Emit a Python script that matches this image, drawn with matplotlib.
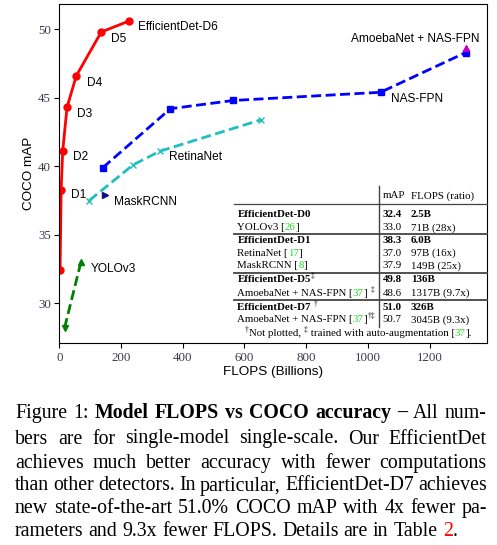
import matplotlib
matplotlib.use("Agg")
import matplotlib.pyplot as plt
from matplotlib.lines import Line2D

# EfficientDet D0..D6
effdet_flops = [2.5, 6.0, 11, 25, 55, 136, 226]
effdet_map = [32.4, 38.3, 41.1, 44.3, 46.6, 49.8, 50.6]
effdet_names = ["D1", "D2", "D3", "D4", "D5", "EfficientDet-D6"]

nasfpn_flops = [141, 360, 563, 1041, 1317]
nasfpn_map = [39.9, 44.2, 44.8, 45.4, 48.3]

retina_flops = [97, 239, 326, 655]
retina_map = [37.5, 40.1, 41.1, 43.4]

mask_flops = [149]
mask_map = [37.9]

yolo_flops = [70, 17]
yolo_map = [33.0, 28.2]

amoeba_flops = [1317]
amoeba_map = [48.6]

SERIF = "Liberation Serif"
SANS = "Liberation Sans"
W, H = 497, 545

fig = plt.figure(figsize=(W / 100, H / 100), dpi=100)
ax = fig.add_axes([59.3 / W, 1 - 343.3 / H, (486.7 - 59.3) / W, (343.3 - 4.3) / H])

DASH = (3.6, 1.6)
ax.plot(effdet_flops, effdet_map, "-o", color="red", lw=2, ms=5)
ax.plot(nasfpn_flops, nasfpn_map, "--s", color="blue", lw=2, ms=5, dashes=DASH)
ax.plot(retina_flops, retina_map, "--x", color="#1fbfbf", lw=2, ms=5, mew=1, dashes=DASH)
ax.plot(mask_flops, mask_map, ">", color="#101080", ms=5)
ax.plot(yolo_flops, yolo_map, "--", color="green", lw=2, dashes=DASH)
ax.plot(yolo_flops[:1], yolo_map[:1], "^", color="green", ms=5)
ax.plot(yolo_flops[1:], yolo_map[1:], "v", color="green", ms=5)
ax.plot(amoeba_flops, amoeba_map, "^", color="m", ms=5)

lab = dict(fontsize=8.6, family=SANS, va="center", ha="left")
# label positions (data coords)
label_x = [37, 43, 58, 89, 168, 256]
label_y = [37.9, 40.66, 43.84, 46.1, 49.29, 50.15]
for name, lx, ly in zip(effdet_names, label_x, label_y):
    ax.text(lx, ly, name, **lab)
ax.text(357, 40.66, "RetinaNet", **lab)
ax.text(178, 37.42, "MaskRCNN", **lab)
ax.text(102, 32.5, "YOLOv3", **lab)
ax.text(1074, 44.91, "NAS-FPN", **lab)
ax.text(944, 49.29, "AmoebaNet + NAS-FPN", **lab)

ax.set_xlim(0, 1385)
ax.set_ylim(27.08, 51.82)
ax.set_xticks(range(0, 1201, 200))
ax.set_yticks(range(30, 51, 5))
ax.tick_params(direction="out", length=3.5, labelsize=9.3, labelcolor="#3a3a4a", pad=2.5)
for t in ax.get_xticklabels() + ax.get_yticklabels():
    t.set_family(SERIF)
ax.set_xlabel("FLOPS (Billions)", fontsize=9.7, family=SANS, labelpad=2)
ax.set_ylabel("COCO mAP", fontsize=9.7, family=SANS, labelpad=2)

renderer = fig.canvas.get_renderer()


def px(x, y):
    return x / W, 1 - y / H


def width_of(s, **kw):
    t = fig.text(0, 0, s, **kw)
    w = t.get_window_extent(renderer).width
    t.remove()
    return w


def run(x, y, pieces, size=7.8):
    # pieces: (text, weight, color, superscript)
    for s, weight, color, sup in pieces:
        fs = size * 0.7 if sup else size
        yy = y - size * 0.45 if sup else y
        kw = dict(fontsize=fs, family=SERIF, weight=weight, color=color, va="center")
        fig.text(*px(x, yy), s, **kw)
        x += width_of(s, **kw)
    return x


def hline(y, x0=234, x1=487, lw=1.0, color="#444444"):
    fig.add_artist(Line2D([x0 / W, x1 / W], [1 - y / H, 1 - y / H], lw=lw, color=color))


# ---- table inside the axes ----
G = "#22dd22"
n, b = "normal", "bold"
col_name, col_map, col_flops = 237.3, 382.7, 410.7
run(col_map, 196, [("mAP", n, "k", False)])
run(col_flops, 196, [("FLOPS (ratio)", n, "k", False)])
rows = [
    (214.3, [("EfficientDet-D0", b, "k", False)], "32.4", "2.5B", b),
    (227.7, [("YOLOv3 [", n, "k", False), ("26", n, G, False), ("]", n, "k", False)], "33.0", "71B (28x)", n),
    (240.7, [("EfficientDet-D1", b, "k", False)], "38.3", "6.0B", b),
    (253.3, [("RetinaNet [", n, "k", False), ("17", n, G, False), ("]", n, "k", False)], "37.0", "97B (16x)", n),
    (266.0, [("MaskRCNN [", n, "k", False), ("8", n, G, False), ("]", n, "k", False)], "37.9", "149B (25x)", n),
    (280.0, [("EfficientDet-D5", b, "k", False), ("\u2021", n, "k", True)], "49.8", "136B", b),
    (293.3, [("AmoebaNet + NAS-FPN [", n, "k", False), ("37", n, G, False), ("] ", n, "k", False),
             ("\u2021", n, "k", True)], "48.6", "1317B (9.7x)", n),
    (307.7, [("EfficientDet-D7 ", b, "k", False), ("\u2020", n, "k", True)], "51.0", "326B", b),
    (320.0, [("AmoebaNet + NAS-FPN [", n, "k", False), ("37", n, G, False), ("]", n, "k", False),
             ("\u2020\u2021", n, "k", True)], "50.7", "3045B (9.3x)", n),
]
for y, name, m, f, wt in rows:
    run(col_name, y, name)
    run(col_map, y, [(m, wt, "k", False)])
    run(col_flops, y, [(f, wt, "k", False)])

foot = [("\u2020", n, "k", True), ("Not plotted, ", n, "k", False), ("\u2021", n, "k", True),
        (" trained with auto-augmentation [", n, "k", False), ("37", n, G, False), ("].", n, "k", False)]
fw = sum(width_of(s, fontsize=7.8 * (0.7 if sp else 1), family=SERIF) for s, _, _, sp in foot)
run(358.5 - fw / 2, 334, foot)

hline(204, lw=0.9)
hline(234.3, lw=1.3)
hline(273.3, lw=1.3)
hline(300.0, lw=1.3)
fig.add_artist(Line2D([379.3 / W] * 2, [1 - 186 / H, 1 - 327 / H], lw=1.0, color="#444444"))

# ---- caption, justified ----
cap_lines = [
    [[("Figure", n, "k")], [("1:", n, "k")], [("Model", b, "k")], [("FLOPS", b, "k")],
     [("vs", b, "k")], [("COCO", b, "k")], [("accuracy", b, "k")], [("\u2013", b, "k")],
     [("All", n, "k")], [("num-", n, "k")]],
    "bers are for single-model single-scale. Our EfficientDet",
    "achieves much better accuracy with fewer computations",
    "than other detectors. In particular, EfficientDet-D7 achieves",
    "new state-of-the-art 51.0% COCO mAP with 4x fewer pa-",
    [[("rameters", n, "k")], [("and", n, "k")], [("9.3x", n, "k")], [("fewer", n, "k")],
     [("FLOPS.", n, "k")], [("Details", n, "k")], [("are", n, "k")], [("in", n, "k")],
     [("Table", n, "k")], [("2", n, "red"), (".", n, "k")]],
]
cap_y = [413.3, 439, 463.3, 486, 508.7, 531.7]
CS = 14.3
left, right = 15, 486.7
for i, (line, y) in enumerate(zip(cap_lines, cap_y)):
    if isinstance(line, str):
        line = [[(w, n, "k")] for w in line.split()]
    widths = [sum(width_of(s, fontsize=CS, family=SERIF, weight=wt) for s, wt, _ in word) for word in line]
    if i == len(cap_lines) - 1:
        gap = width_of("a a", fontsize=CS, family=SERIF) - 2 * width_of("a", fontsize=CS, family=SERIF)
    else:
        gap = (right - left - sum(widths)) / (len(line) - 1)
    x = left
    for word, w in zip(line, widths):
        xx = x
        for s, wt, c in word:
            kw = dict(fontsize=CS, family=SERIF, weight=wt, color=c, va="center")
            fig.text(*px(xx, y), s, **kw)
            xx += width_of(s, **kw)
        x += w + gap

fig.savefig("out.png", dpi=100)
